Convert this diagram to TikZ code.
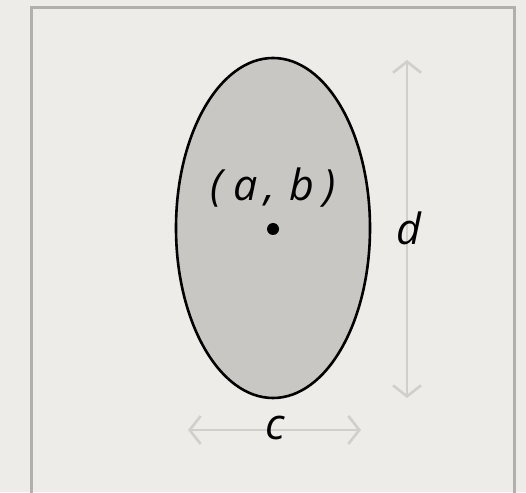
\documentclass[tikz,border=0pt]{standalone}
\usepackage{fontspec}
\setmainfont{Open Sans}
\usetikzlibrary{positioning,arrows.meta,shapes.geometric}
\definecolor{papel}{HTML}{EDECE8}
\definecolor{marco}{HTML}{B0B0AD}
\definecolor{relleno}{HTML}{C8C7C3}
\definecolor{cota}{HTML}{CFCFCC}

\tikzset{
  medida/.style={cota, line width=2.6pt,
    {Straight Barb[length=11pt,width=28pt,line width=2.6pt]}-{Straight Barb[length=11pt,width=28pt,line width=2.6pt]}},
  etiqueta/.style={font=\fontsize{43}{48}\selectfont\itshape, inner sep=0pt}
}

\begin{document}
\begin{tikzpicture}[x=1pt, y=1pt]
    % fondo y marco
    \fill[papel] (0,0) rectangle (526,492);
    \useasboundingbox (0,0) rectangle (526,492);
    \draw[marco, line width=3pt] (31,-10) -- (31,484) -- (514,484) -- (514,-10);
    % la elipse y su centro
    \node[ellipse, draw, line width=2.6pt, fill=relleno, minimum width=194pt, minimum height=340pt] (elipse) at (273,264) {};
    \fill (273,263) circle (6pt);
    \node[etiqueta] (centro) at (273,304) {(\hspace{11pt}a\hspace{7pt},\hspace{14pt}b\hspace{9pt})};
    % cotas
    \coordinate (darriba) at (407,432);
    \coordinate (dabajo) at (407,94);
    \draw[medida] (darriba) -- (dabajo);
    \node[etiqueta] (d) at (409,264) {d};
    \coordinate (cizq) at (188,62);
    \coordinate (cder) at (361,62);
    \draw[medida] (cizq) -- (cder);
    \node[etiqueta] (c) at (275,64) {c};
  \end{tikzpicture}
\end{document}
